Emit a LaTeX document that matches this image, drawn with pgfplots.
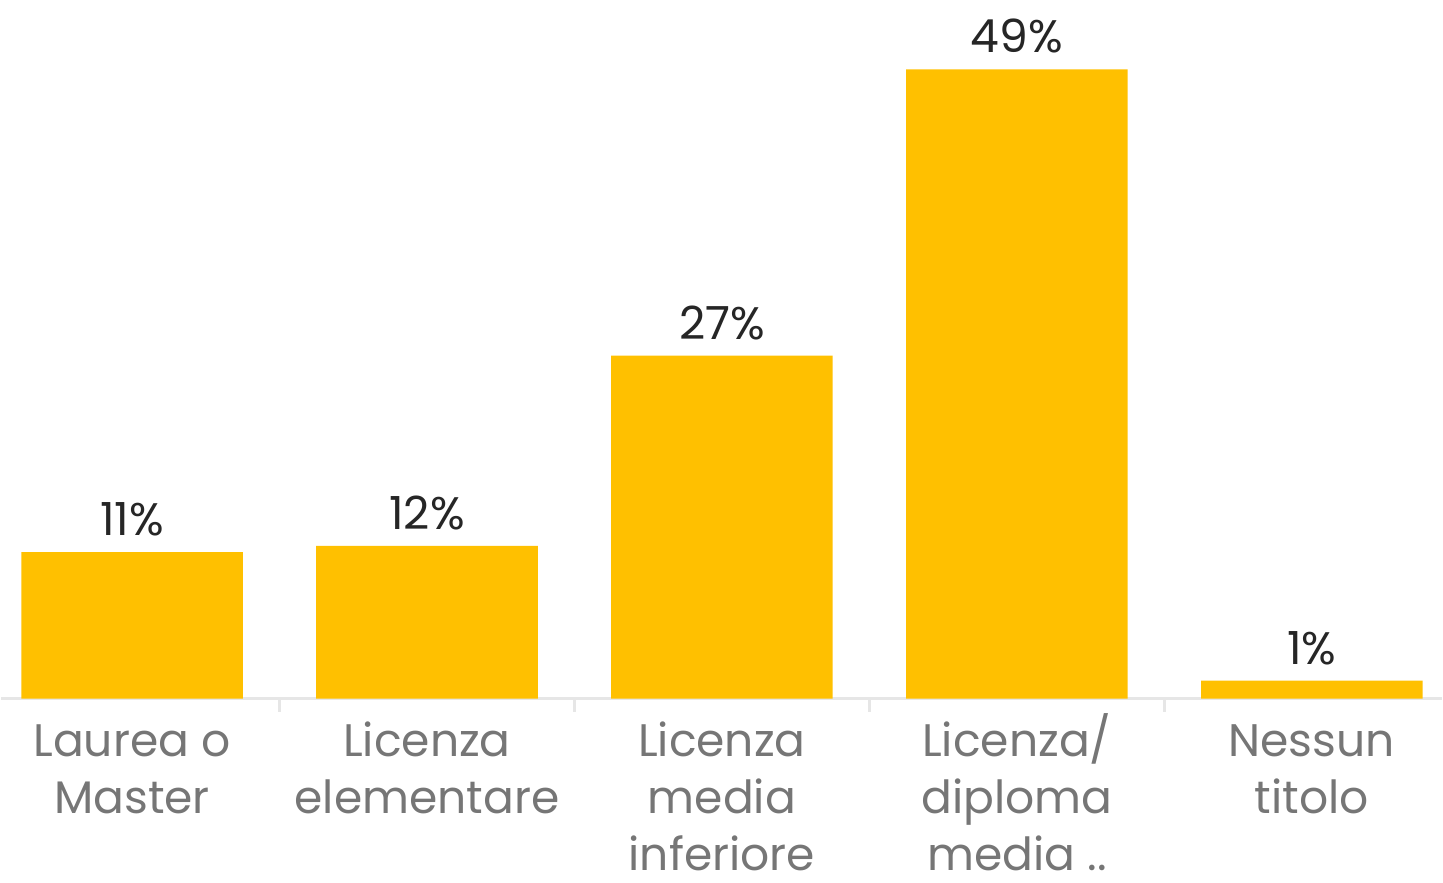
\documentclass[border=0pt]{standalone}
\usepackage{pgfplots}
\pgfplotsset{compat=1.18}
\usepackage{fontspec}
\setmainfont{Poppins}
\definecolor{baryellow}{HTML}{FFC000}
\definecolor{labelgray}{HTML}{767676}
\definecolor{valgray}{HTML}{262626}
\definecolor{axisgray}{HTML}{E6E6E6}
\newcommand{\lstrut}{\rule{0pt}{13pt}}
\begin{document}
\begin{tikzpicture}
\begin{axis}[
  scale only axis, width=14.43cm, height=7.0cm,
  xmin=-0.443, xmax=4.44, ymin=0, ymax=54.4,
  hide y axis,
  axis x line*=bottom,
  x axis line style={-, draw=axisgray, line width=0.8pt},
  xtick={0,1,2,3,4},
  xticklabels={\lstrut Laurea o\\Master, \lstrut Licenza\\elementare, \lstrut Licenza\\media\\inferiore, \lstrut Licenza/\\diploma\\media .., \lstrut Nessun\\titolo},
  major tick length=0pt,
  extra x ticks={0.5,1.5,2.5,3.5},
  extra x tick labels={},
  extra x tick style={major tick length=0.13cm, xtick align=outside, tick style={draw=axisgray, line width=0.8pt}},
  x tick label style={align=center, text=labelgray, font=\fontsize{13}{16.2}\selectfont, yshift=0pt},
  ybar, bar width=2.22cm, bar shift=0pt,
  clip=false,
  /pgf/number format/assume math mode=true,
  nodes near coords={\pgfmathprintnumber[fixed,precision=0]{\pgfplotspointmeta}\%},
  every node near coord/.append style={text=valgray, font=\fontsize{13}{16}\selectfont, yshift=1pt},
]
\addplot[fill=baryellow, draw=none] coordinates {
  (0,11.4) (1,11.9) (2,26.7) (3,49.0) (4,1.4)
};
\path (rel axis cs:0,0) -- (rel axis cs:1,1);
\end{axis}
\end{tikzpicture}
\end{document}
